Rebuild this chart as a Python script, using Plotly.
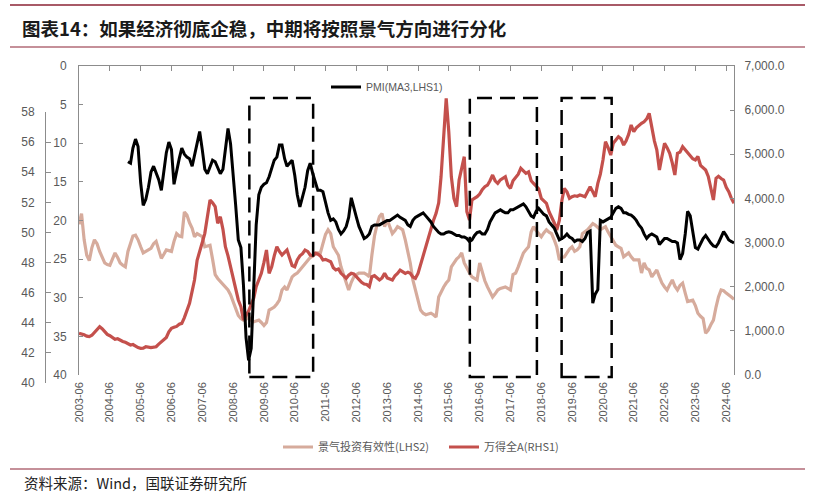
import plotly.graph_objects as go
import pandas as pd

# ---------------- data ----------------
months = pd.date_range("2003-06-01", "2024-09-01", freq="MS")
pmi_months = pd.date_range("2005-01-01", "2024-09-01", freq="MS")

wind_2003 = [944, 930, 910, 880, 868, 900, 960]
wind_2004 = [1030, 1094, 1050, 980, 920, 890, 840, 808, 820, 780, 760, 740]
wind_2005 = [700, 680, 690, 650, 620, 604, 610, 640, 630, 620, 630, 641]
wind_2006 = [700, 760, 793, 850, 980, 1058, 1080, 1100, 1150, 1170, 1300, 1450]
wind_2007 = [1624, 1900, 2152, 2600, 2831, 3000, 3209, 3650, 3964, 3900, 3813, 3435]
wind_2008 = [3586, 3300, 2906, 2700, 2453, 2150, 1925, 1700, 1547, 1246, 1350, 1450]
wind_2009 = [1600, 1750, 2000, 2150, 2303, 2550, 2831, 2303, 2450, 2700, 2906, 2800]
wind_2010 = [2718, 2780, 2831, 2650, 2480, 2450, 2605, 2700, 2750, 2831, 2800, 2718]
wind_2011 = [2700, 2756, 2740, 2700, 2605, 2620, 2600, 2566, 2430, 2378, 2400, 2303]
wind_2012 = [2250, 2190, 2260, 2303, 2290, 2230, 2152, 2100, 2060, 2050, 2000, 2227]
wind_2013 = [2250, 2200, 2152, 2200, 2303, 2200, 2180, 2152, 2250, 2300, 2378, 2340]
wind_2014 = [2303, 2330, 2303, 2220, 2190, 2300, 2500, 2750, 2906, 3100, 3359, 3500]
wind_2015 = [3662, 3900, 4491, 5400, 6267, 5500, 4491, 4000, 3813, 4417, 4700, 4945]
wind_2016 = [3700, 3511, 3964, 4000, 4039, 4100, 4200, 4265, 4300, 4400, 4530, 4400]
wind_2017 = [4342, 4420, 4450, 4491, 4300, 4228, 4400, 4491, 4550, 4681, 4620, 4568]
wind_2018 = [4600, 4400, 4342, 4280, 4220, 4000, 3950, 3889, 3700, 3586, 3450, 3284]
wind_2019 = [3500, 3964, 4228, 4150, 4000, 4039, 4060, 4050, 4077, 4060, 4039, 4150]
wind_2020 = [4265, 4150, 4039, 4342, 4550, 4870, 5284, 5150, 4983, 5250, 5323, 5398]
wind_2021 = [5350, 5210, 5300, 5450, 5663, 5511, 5600, 5663, 5700, 5737, 5800, 5927]
wind_2022 = [5600, 5300, 5100, 4643, 4950, 5248, 5150, 5021, 4800, 4530, 5021, 5050]
wind_2023 = [5171, 5100, 5050, 4983, 4900, 4870, 4950, 4750, 4700, 4643, 4500, 4250]
wind_2024 = [3964, 4454, 4500, 4450, 4417, 4250, 4152, 4000, 3889]

eff_2003 = [20.5, 19.1, 22.5, 24.5, 25.2, 23.5, 22.5]
eff_2004 = [23.0, 24.0, 24.8, 25.5, 25.7, 25.8, 25.0, 24.2, 24.8, 25.5, 25.8, 26.0]
eff_2005 = [24.0, 22.8, 22.0, 21.9, 22.5, 23.4, 24.2, 24.0, 23.8, 23.6, 23.0, 22.7]
eff_2006 = [23.8, 24.9, 24.4, 23.8, 23.9, 24.0, 22.7, 21.7, 22.0, 22.1, 18.9, 19.3]
eff_2007 = [20.3, 21.0, 22.1, 21.7, 21.9, 22.1, 23.4, 23.3, 23.2, 25.0, 27.0, 27.5]
eff_2008 = [27.9, 28.2, 28.6, 29.0, 29.6, 30.5, 31.5, 32.3, 32.7, 32.9, 32.8, 32.5]
eff_2009 = [32.9, 33.1, 33.0, 32.9, 33.2, 33.6, 33.2, 31.6, 31.4, 31.2, 30.8, 30.3]
eff_2010 = [29.0, 28.6, 29.0, 28.2, 27.3, 27.0, 26.8, 26.4, 26.0, 25.6, 25.1, 24.8]
eff_2011 = [24.6, 24.2, 24.2, 24.2, 23.0, 21.8, 21.2, 21.7, 23.4, 24.0, 24.5, 26.0]
eff_2012 = [27.0, 28.1, 29.0, 28.0, 27.3, 27.0, 26.8, 26.8, 26.8, 27.0, 27.3, 24.5]
eff_2013 = [22.0, 20.5, 19.5, 19.1, 20.8, 19.9, 20.8, 21.7, 21.3, 20.8, 21.0, 21.2]
eff_2014 = [22.5, 24.0, 25.5, 27.7, 29.0, 30.3, 31.6, 32.0, 32.2, 32.1, 32.0, 32.2]
eff_2015 = [32.5, 29.9, 29.2, 28.6, 28.1, 27.7, 26.0, 25.5, 25.0, 24.7, 24.2, 25.5]
eff_2016 = [26.2, 26.8, 27.3, 27.5, 27.7, 25.5, 26.8, 27.8, 28.6, 29.3, 29.9, 29.5]
eff_2017 = [29.0, 28.8, 28.7, 28.6, 28.8, 29.0, 27.0, 26.8, 26.0, 25.0, 24.2, 23.8]
eff_2018 = [23.4, 21.5, 20.8, 21.3, 21.7, 22.1, 21.6, 21.2, 21.5, 21.7, 22.5, 23.4]
eff_2019 = [25.1, 24.8, 24.7, 24.2, 23.7, 23.4, 24.0, 23.8, 23.4, 21.7, 21.5, 21.2]
eff_2020 = [20.8, 20.4, 20.6, 20.9, 21.2, 21.0, 20.8, 21.5, 22.1, 22.7, 23.2, 23.4]
eff_2021 = [23.6, 24.7, 24.5, 24.2, 24.7, 25.1, 25.1, 25.1, 26.8, 25.5, 26.2, 26.4]
eff_2022 = [27.3, 26.8, 26.4, 27.3, 28.1, 28.6, 29.0, 28.3, 27.7, 28.5, 29.0, 28.4]
eff_2023 = [28.1, 29.4, 30.5, 30.4, 30.3, 31.0, 32.0, 32.4, 32.7, 34.6, 34.2, 33.5]
eff_2024 = [32.9, 31.2, 29.9, 29.0, 29.1, 29.4, 29.6, 29.9, 30.2]

pmi_2005 = [54.7, 54.6, 55.6, 56.2, 55.7, 53.3, 51.8, 52.2, 53.0, 54.0, 54.4, 53.9]
pmi_2006 = [53.5, 52.8, 53.9, 55.3, 56.0, 55.5, 53.2, 54.1, 54.9, 55.6, 55.2, 55.0]
pmi_2007 = [54.9, 54.4, 55.2, 56.0, 56.7, 55.5, 54.2, 53.9, 54.4, 54.8, 54.7, 54.3]
pmi_2008 = [53.9, 54.2, 55.6, 56.9, 55.9, 53.5, 51.8, 49.5, 49.0, 46.5, 43.0, 41.5]
pmi_2009 = [42.3, 46.5, 50.5, 52.5, 53.0, 53.2, 53.3, 53.7, 54.2, 54.8, 55.0, 55.8]
pmi_2010 = [55.8, 54.9, 54.4, 54.6, 54.8, 53.8, 52.5, 51.7, 52.3, 53.0, 54.1, 54.6]
pmi_2011 = [53.9, 53.3, 52.8, 52.8, 52.7, 52.0, 51.3, 50.8, 50.9, 50.7, 50.2, 49.9]
pmi_2012 = [50.1, 50.4, 51.0, 52.3, 51.6, 51.0, 50.4, 50.0, 49.6, 49.7, 49.9, 50.4]
pmi_2013 = [50.5, 50.5, 50.5, 50.6, 50.7, 50.8, 50.8, 50.9, 51.0, 51.15, 51.0, 50.9]
pmi_2014 = [50.8, 50.5, 50.4, 50.8, 51.0, 51.1, 51.2, 51.3, 51.1, 50.9, 50.7, 50.4]
pmi_2015 = [50.2, 50.0, 49.9, 49.9, 50.0, 50.05, 50.0, 49.9, 49.8, 49.8, 49.7, 49.7]
pmi_2016 = [49.6, 49.4, 49.5, 49.8, 50.0, 50.05, 49.9, 49.9, 50.2, 50.7, 51.0, 51.3]
pmi_2017 = [51.4, 51.5, 51.4, 51.3, 51.3, 51.5, 51.5, 51.6, 51.7, 51.8, 51.9, 51.7]
pmi_2018 = [51.4, 51.1, 51.0, 51.4, 51.6, 51.4, 51.2, 51.1, 50.7, 50.5, 50.3, 49.9]
pmi_2019 = [49.5, 49.6, 49.7, 49.9, 49.7, 49.6, 49.4, 49.5, 49.5, 49.4, 49.6, 50.0]
pmi_2020 = [50.1, 45.3, 45.9, 46.2, 50.8, 50.7, 50.8, 50.9, 51.0, 51.3, 51.6, 51.7]
pmi_2021 = [51.6, 51.3, 51.3, 51.2, 51.15, 51.0, 50.8, 50.5, 50.3, 49.9, 49.6, 49.8]
pmi_2022 = [49.9, 49.8, 49.7, 49.2, 49.4, 49.6, 49.6, 49.5, 49.4, 49.4, 49.3, 48.2]
pmi_2023 = [48.6, 49.9, 51.4, 51.1, 50.0, 49.0, 48.9, 49.3, 49.6, 49.8, 49.5, 49.3]
pmi_2024 = [49.1, 49.05, 49.3, 49.7, 50.05, 49.8, 49.5, 49.4, 49.3]

wind_a = (wind_2003 + wind_2004 + wind_2005 + wind_2006 + wind_2007 + wind_2008 + wind_2009
          + wind_2010 + wind_2011 + wind_2012 + wind_2013 + wind_2014 + wind_2015 + wind_2016
          + wind_2017 + wind_2018 + wind_2019 + wind_2020 + wind_2021 + wind_2022 + wind_2023 + wind_2024)
effect = (eff_2003 + eff_2004 + eff_2005 + eff_2006 + eff_2007 + eff_2008 + eff_2009 + eff_2010
          + eff_2011 + eff_2012 + eff_2013 + eff_2014 + eff_2015 + eff_2016 + eff_2017 + eff_2018
          + eff_2019 + eff_2020 + eff_2021 + eff_2022 + eff_2023 + eff_2024)
pmi = (pmi_2005 + pmi_2006 + pmi_2007 + pmi_2008 + pmi_2009 + pmi_2010 + pmi_2011 + pmi_2012
       + pmi_2013 + pmi_2014 + pmi_2015 + pmi_2016 + pmi_2017 + pmi_2018 + pmi_2019 + pmi_2020
       + pmi_2021 + pmi_2022 + pmi_2023 + pmi_2024)

tick_dates = pd.date_range("2003-06-01", "2024-06-01", freq="12MS")
boxes = [("2008-12-10", "2011-01-05"), ("2016-02-05", "2018-04-10"), ("2019-01-28", "2020-09-12")]

name_pmi = "PMI(MA3,LHS1)"
name_eff = "景气投资有效性(LHS2)"
name_wind = "万得全A(RHS1)"
title = "图表14：如果经济彻底企稳，中期将按照景气方向进行分化"
source = "资料来源：Wind，国联证券研究所"

# ---------------- layout helpers ----------------
W, H = 813, 495
ML, MR, MT, MB = 45, 79, 66, 112
PW = W - ML - MR
PH = H - MT - MB


def px2x(px):
    return (px - ML) / PW


def py2y(py):
    return (MT + PH - py) / PH


FONT = "Liberation Sans, Arial, Noto Sans CJK SC, sans-serif"
CJK = "Noto Sans CJK SC, Liberation Sans, sans-serif"
GRAY = "#595959"
AXC = "#8c8c8c"
TAN = "#D6AB9C"
RED = "#C4504C"
MAROON = "#8B2335"

fig = go.Figure()
fig.add_trace(go.Scatter(x=months, y=effect, name=name_eff, mode="lines",
                         line=dict(color=TAN, width=3.2), xaxis="x", yaxis="y",
                         legend="legend2", hoverinfo="skip"))
fig.add_trace(go.Scatter(x=months, y=wind_a, name=name_wind, mode="lines",
                         line=dict(color=RED, width=3.2), xaxis="x", yaxis="y2",
                         legend="legend2", hoverinfo="skip"))
fig.add_trace(go.Scatter(x=pmi_months, y=pmi, name=name_pmi, mode="lines",
                         line=dict(color="#000000", width=3), xaxis="x", yaxis="y3",
                         legend="legend", hoverinfo="skip"))
# invisible carrier for the top axis line
fig.add_trace(go.Scatter(x=months, y=effect, mode="lines", line=dict(width=0, color="rgba(0,0,0,0)"),
                         xaxis="x2", yaxis="y", showlegend=False, hoverinfo="skip"))

shapes = []
for a, b in boxes:
    shapes.append(dict(type="rect", xref="x", yref="paper", x0=a, x1=b,
                       y0=py2y(377), y1=py2y(98),
                       line=dict(color="black", width=2.5, dash="15px,8px"),
                       fillcolor="rgba(0,0,0,0)", layer="above"))
for yy, w in [(5, 1.5), (47, 1.2), (469, 1.2)]:
    shapes.append(dict(type="line", xref="paper", yref="paper", x0=px2x(10), x1=px2x(805),
                       y0=py2y(yy), y1=py2y(yy), line=dict(color=MAROON, width=w)))

x_range = [months[0], months[-1]]

fig.update_layout(
    width=W, height=H,
    margin=dict(l=ML, r=MR, t=MT, b=MB, pad=0),
    paper_bgcolor="white", plot_bgcolor="rgba(0,0,0,0)",
    font=dict(family=FONT, size=12, color=GRAY),
    xaxis=dict(type="date", range=x_range, domain=[px2x(79), 1], anchor="y",
               tickvals=tick_dates, tickformat="%Y-%m", tickangle=-90,
               showgrid=False, zeroline=False, showline=False, ticks="",
               tickfont=dict(size=11, color=GRAY), ticklabelstandoff=4),
    xaxis2=dict(type="date", range=x_range, domain=[px2x(79), 1], anchor="y",
                overlaying="x", side="top", matches="x",
                tickvals=tick_dates, showticklabels=False, ticks="inside", ticklen=5,
                tickcolor=AXC, showline=True, linecolor=AXC, linewidth=1,
                showgrid=False, zeroline=False),
    yaxis=dict(range=[40, 0], domain=[py2y(375), 1], anchor="x", side="left",
               tickvals=[0, 5, 10, 15, 20, 25, 30, 35, 40],
               showline=True, linecolor=AXC, linewidth=1, ticks="inside", ticklen=4,
               tickcolor=AXC, showgrid=False, zeroline=False,
               tickfont=dict(size=12, color=GRAY), ticklabelstandoff=9),
    yaxis2=dict(range=[0, 7000], overlaying="y", side="right", anchor="x",
                tickvals=[0, 1000, 2000, 3000, 4000, 5000, 6000, 7000], tickformat=",.1f",
                showline=True, linecolor=AXC, linewidth=1, ticks="inside", ticklen=4,
                tickcolor=AXC, showgrid=False, zeroline=False,
                tickfont=dict(size=12, color=GRAY), ticklabelstandoff=7),
    yaxis3=dict(range=[40, 58], domain=[0, py2y(112)], anchor="free", position=0, side="left",
                tickvals=[40, 42, 44, 46, 48, 50, 52, 54, 56, 58],
                showline=True, linecolor=AXC, linewidth=1, ticks="inside", ticklen=5,
                tickcolor=AXC, showgrid=False, zeroline=False,
                tickfont=dict(size=12, color=GRAY), ticklabelstandoff=8),
    legend=dict(x=px2x(326), y=py2y(87), xanchor="left", yanchor="middle",
                orientation="h", bgcolor="rgba(0,0,0,0)",
                font=dict(family=FONT, size=10.5, color=GRAY)),
    legend2=dict(x=px2x(278), y=py2y(447), xanchor="left", yanchor="middle",
                 orientation="h", bgcolor="rgba(0,0,0,0)", entrywidth=121,
                 font=dict(family=CJK, size=11, color=GRAY)),
    shapes=shapes,
    annotations=[
        dict(text=title, x=px2x(20), y=py2y(28), xref="paper", yref="paper",
             xanchor="left", yanchor="middle", showarrow=False,
             font=dict(family=CJK, size=18.5, color="#1a1a1a", weight="bold")),
        dict(text=source, x=px2x(22), y=py2y(482), xref="paper", yref="paper",
             xanchor="left", yanchor="middle", showarrow=False,
             font=dict(family=CJK, size=14.5, color="#222222")),
    ],
    showlegend=True,
)

fig.write_html("out.html")
